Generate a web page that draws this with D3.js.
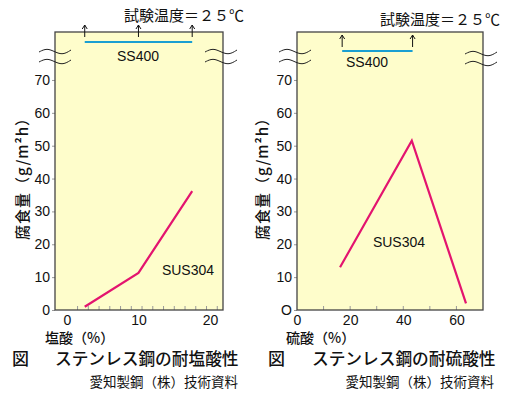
<!DOCTYPE html>
<html>
<head>
<meta charset="utf-8">
<script src="https://cdn.jsdelivr.net/npm/d3@7"></script>
<style>
  body { margin: 0; background: #fff; }
  text { font-family: "Noto Sans CJK JP", sans-serif; fill: #111; }
  .num { font-family: "Liberation Sans", Arial, sans-serif; }
</style>
</head>
<body>
<svg id="chart" width="510" height="395"></svg>
<script>
// 塩酸 (hydrochloric acid) panel
let hclConc = [2.5, 10, 17.5]
let hclSus304 = [1, 11.3, 36.2]
let hclSs400 = [2.5, 10, 17.5]   // off scale (above the break)
let hclTicks = [0, 10, 20]
let hclMinor = [1.5, 3, 4.5, 6, 7.5, 9, 10.5, 12, 13.5, 15, 16.5, 18, 19.5, 21]

// 硫酸 (sulfuric acid) panel
let h2so4Conc = [16.2, 43.2, 63.6]
let h2so4Sus304 = [13, 51.5, 2]
let h2so4Ss400 = [17, 43.5]
let h2so4Ticks = [0, 20, 40, 60]
let h2so4Minor = [10, 20, 30, 40, 50, 60]

let yTicks = [0, 10, 20, 30, 40, 50, 60, 70]

let svg = d3.select("#chart")
let plotTop = 32, plotBottom = 310

function drawPanel(p) {
  let g = svg.append("g")
  let x = d3.scaleLinear().domain(p.xDomain).range([p.left, p.right])
  let y = d3.scaleLinear().domain([0, 84.6]).range([plotBottom, plotTop])

  g.append("rect")
    .attr("x", p.left).attr("y", plotTop)
    .attr("width", p.right - p.left).attr("height", plotBottom - plotTop)
    .attr("fill", "#fefdcb")

  // y axis ticks + labels
  let yAxis = d3.axisLeft(y).tickValues(yTicks).tickSize(3).tickPadding(2)
    .tickFormat(d => (d == 0 && p.zeroO) ? "O" : d)
  let yg = g.append("g").attr("transform", `translate(${p.left},0)`).call(yAxis)
  yg.select(".domain").remove()
  yg.selectAll("line").attr("stroke", "#999")
  yg.selectAll("text").attr("class", "num").style("font-size", "14px").attr("fill", "#111")

  // x axis, minor ticks pointing up inside
  let xg = g.append("g").attr("transform", `translate(0,${plotBottom})`)
    .call(d3.axisBottom(x).tickValues(p.ticks).tickSize(0).tickPadding(5))
  xg.select(".domain").remove()
  xg.selectAll("text").attr("class", "num").style("font-size", "14px").attr("fill", "#111")
  g.selectAll(".minor").data(p.minor).enter().append("line")
    .attr("x1", d => x(d)).attr("x2", d => x(d))
    .attr("y1", plotBottom).attr("y2", plotBottom - 4)
    .attr("stroke", "#999")

  // frame
  g.append("rect")
    .attr("x", p.left).attr("y", plotTop)
    .attr("width", p.right - p.left).attr("height", plotBottom - plotTop)
    .attr("fill", "none").attr("stroke", "#444").attr("stroke-width", 1.3)

  // break marks
  let wave = d3.line().curve(d3.curveBasis)
  p.breaks.forEach(b => {
    [0, 10].forEach(dy => {
      let yy = b[1] + dy
      g.append("path")
        .attr("d", wave([[b[0], yy + 1], [b[0] + 8, yy - 3], [b[0] + 16, yy + 1], [b[0] + 24, yy + 4], [b[0] + 32, yy - 1]]))
        .attr("fill", "none").attr("stroke", "#222").attr("stroke-width", 1)
    })
  })

  // SS400 (off scale)
  let ssY = p.ssY
  g.append("line")
    .attr("x1", x(d3.min(p.ss))).attr("x2", x(d3.max(p.ss)))
    .attr("y1", ssY).attr("y2", ssY)
    .attr("stroke", "#1a9fd2").attr("stroke-width", 2.2)
  p.ss.forEach(d => {
    g.append("line")
      .attr("x1", x(d)).attr("x2", x(d))
      .attr("y1", p.arrowY[1]).attr("y2", p.arrowY[0])
      .attr("stroke", "#111").attr("stroke-width", 1)
    g.append("path")
      .attr("d", `M${x(d) - 2.5},${p.arrowY[0] + 4} L${x(d)},${p.arrowY[0]} L${x(d) + 2.5},${p.arrowY[0] + 4}`)
      .attr("fill", "none").attr("stroke", "#111").attr("stroke-width", 1)
  })
  g.append("text").attr("class", "num")
    .attr("x", p.ssLabel[0]).attr("y", p.ssLabel[1])
    .attr("text-anchor", "middle").style("font-size", "14px")
    .text("SS400")

  // SUS304 line
  let pts = p.conc.map((c, i) => [x(c), y(p.sus[i])])
  g.append("path")
    .attr("d", d3.line()(pts))
    .attr("fill", "none").attr("stroke", "#e3146f").attr("stroke-width", 2.2)
    .attr("stroke-linejoin", "miter")
  g.append("text").attr("class", "num")
    .attr("x", p.susLabel[0]).attr("y", p.susLabel[1])
    .attr("text-anchor", "middle").style("font-size", "14px")
    .text("SUS304")

  // texts
  g.append("text")
    .attr("x", p.tempX).attr("y", p.tempY)
    .attr("text-anchor", "end").style("font-size", "15px")
    .text("試験温度＝２５℃")
  g.append("text")
    .attr("transform", `translate(${p.yTitleX},175) rotate(-90)`)
    .attr("text-anchor", "middle").style("font-size", "15px").style("font-weight", 500)
    .style("letter-spacing", "1px")
    .text("腐食量（g/m²h）")
  g.append("text")
    .attr("x", p.xTitleX).attr("y", 343)
    .style("font-size", "14px").style("font-weight", 500)
    .text(p.xTitle)
  g.append("text")
    .attr("x", p.figX).attr("y", 365)
    .style("font-size", "17px").style("font-weight", 500)
    .text("図")
  g.append("text")
    .attr("x", p.titleX).attr("y", 365)
    .style("font-size", "16.7px").style("font-weight", 500)
    .text(p.title)
  g.append("text")
    .attr("x", p.creditX).attr("y", 387)
    .attr("text-anchor", "end").style("font-size", "13.5px")
    .text("愛知製鋼（株）技術資料")
}

drawPanel({
  left: 55, right: 223, xDomain: [-1.65, 21.8],
  ticks: hclTicks, minor: hclMinor,
  conc: hclConc, sus: hclSus304, ss: hclSs400,
  ssY: 42, arrowY: [25, 37], ssLabel: [138, 61],
  susLabel: [188, 275],
  breaks: [[39, 51], [205, 51]],
  tempX: 244, tempY: 21, yTitleX: 28, xTitleX: 45,
  xTitle: "塩酸（%）", figX: 12, titleX: 55, title: "ステンレス鋼の耐塩酸性",
  creditX: 238
})

drawPanel({
  left: 297, right: 483, xDomain: [0, 70], zeroO: true,
  ticks: h2so4Ticks, minor: h2so4Minor,
  conc: h2so4Conc, sus: h2so4Sus304, ss: h2so4Ss400,
  ssY: 51, arrowY: [35, 47], ssLabel: [367, 67],
  susLabel: [399, 247],
  breaks: [[279, 51], [465, 53]],
  tempX: 500, tempY: 25, yTitleX: 268, xTitleX: 286,
  xTitle: "硫酸（%）", figX: 268, titleX: 312, title: "ステンレス鋼の耐硫酸性",
  creditX: 494
})
</script>
</body>
</html>
